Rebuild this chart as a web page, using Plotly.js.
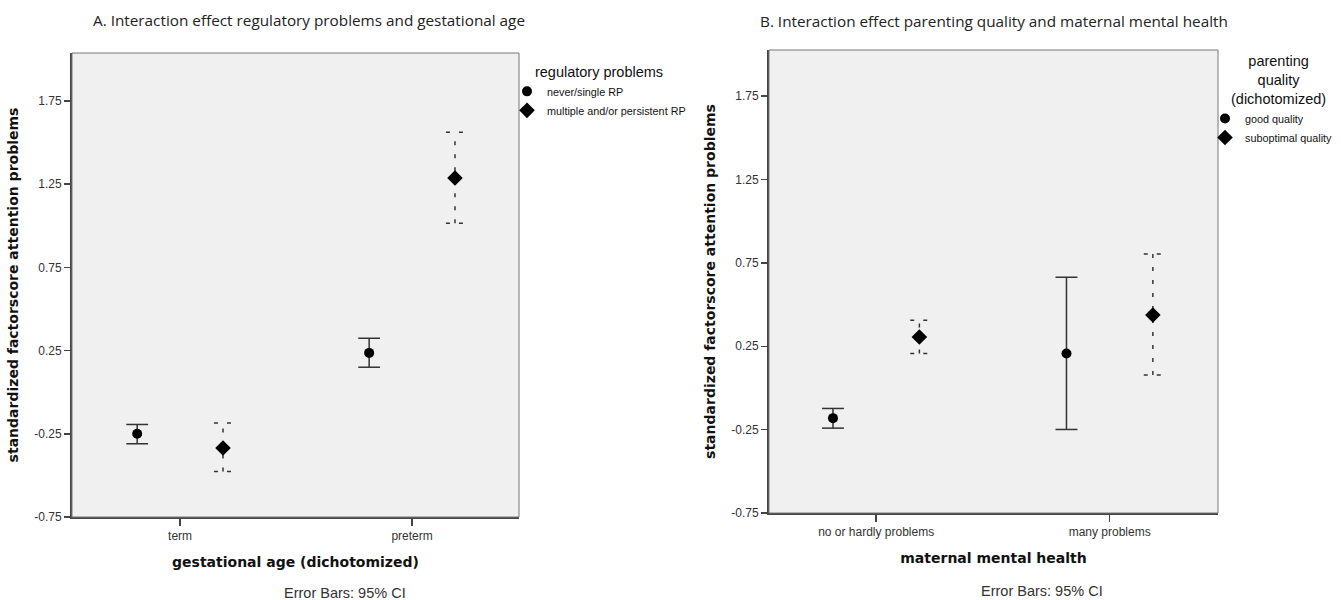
<!DOCTYPE html>
<html>
<head>
<meta charset="utf-8">
<script src="https://cdn.plot.ly/plotly-3.0.1.min.js"></script>
<style>html,body{margin:0;padding:0;background:#fff;}#chart{width:1341px;height:600px;}</style>
</head>
<body>
<div id="chart"></div>
<script>
// ---- data ----
const catsA = ['term', 'preterm'];
const rpNeverMean = [-0.25, 0.236];
const rpNeverLo   = [-0.31, 0.150];
const rpNeverHi   = [-0.194, 0.324];
const rpMultMean  = [-0.335, 1.287];
const rpMultLo    = [-0.477, 1.015];
const rpMultHi    = [-0.185, 1.562];

const catsB = ['no or hardly problems', 'many problems'];
const goodMean = [-0.181, 0.207];
const goodLo   = [-0.241, -0.249];
const goodHi   = [-0.123, 0.664];
const subMean  = [0.306, 0.438];
const subLo    = [0.207, 0.077];
const subHi    = [0.406, 0.803];

const yTickVals = [-0.75, -0.25, 0.25, 0.75, 1.25, 1.75];
const yTickText = ['-0.75', '-0.25', '0.25', '0.75', '1.25', '1.75'];

// ---- helpers ----
const OFFSET = 0.185;   // cluster offset in category units
function positions(n, off) { return Array.from({length: n}, (_, i) => i + off); }

function errorTrace(xs, lo, hi, capHalf, dash, xa, ya) {
  const x = [], y = [];
  xs.forEach((xi, i) => {
    x.push(xi, xi, null, xi - capHalf, xi + capHalf, null, xi - capHalf, xi + capHalf, null);
    y.push(lo[i], hi[i], null, hi[i], hi[i], null, lo[i], lo[i], null);
  });
  return {
    type: 'scatter', mode: 'lines', x, y, xaxis: xa, yaxis: ya,
    line: {color: '#333', width: 1.5, dash: dash},
    showlegend: false, hoverinfo: 'skip'
  };
}

function markerTrace(xs, ys, name, symbol, size, xa, ya, legend) {
  return {
    type: 'scatter', mode: 'markers', x: xs, y: ys, name: name,
    xaxis: xa, yaxis: ya, legend: legend,
    marker: {symbol: symbol, size: size, color: '#000'}
  };
}

const xA0 = positions(2, -OFFSET), xA1 = positions(2, OFFSET);
const xB0 = positions(2, -OFFSET), xB1 = positions(2, OFFSET);

const traces = [
  errorTrace(xA0, rpNeverLo, rpNeverHi, 0.047, 'solid', 'x', 'y'),
  errorTrace(xA1, rpMultLo, rpMultHi, 0.039, '4px,9px', 'x', 'y'),
  markerTrace(xA0, rpNeverMean, 'never/single RP', 'circle', 10, 'x', 'y', 'legend'),
  markerTrace(xA1, rpMultMean, 'multiple and/or persistent RP', 'diamond', 12, 'x', 'y', 'legend'),
  errorTrace(xB0, goodLo, goodHi, 0.047, 'solid', 'x2', 'y2'),
  errorTrace(xB1, subLo, subHi, 0.039, '4px,9px', 'x2', 'y2'),
  markerTrace(xB0, goodMean, 'good quality', 'circle', 10, 'x2', 'y2', 'legend2'),
  markerTrace(xB1, subMean, 'suboptimal quality', 'diamond', 12, 'x2', 'y2', 'legend2')
];

const W = 1341, H = 600;
const arial = 'Liberation Sans, Arial, sans-serif';
const tickFont = {family: arial, size: 12, color: '#333'};
const axTitleFont = {family: 'DejaVu Sans, Verdana, sans-serif', size: 14, color: '#111'};

function xAxis(domain, range, cats, title) {
  return {
    domain: domain, range: range, tickvals: [0, 1], ticktext: cats,
    showgrid: false, zeroline: false, showline: true, linecolor: '#444', linewidth: 2,
    ticks: 'outside', ticklen: 7, tickwidth: 1.5, tickcolor: '#444',
    tickfont: tickFont, fixedrange: true,
    title: {text: '<b>' + title + '</b>', font: axTitleFont, standoff: 15}
  };
}
function yAxis(domain, range, anchor) {
  return {
    domain: domain, range: range, anchor: anchor,
    tickvals: yTickVals, ticktext: yTickText,
    showgrid: false, zeroline: false, showline: true, linecolor: '#444', linewidth: 2,
    ticks: 'outside', ticklen: 6, tickwidth: 1.5, tickcolor: '#444',
    tickfont: tickFont, fixedrange: true,
    title: {text: '<b>standardized factorscore attention problems</b>', font: axTitleFont, standoff: 12}
  };
}

const layout = {
  width: W, height: H,
  margin: {l: 0, r: 0, t: 0, b: 0},
  paper_bgcolor: '#fff', plot_bgcolor: '#f0f0f0',
  showlegend: true,
  xaxis: Object.assign(xAxis([72 / W, 519 / W], [-0.466, 1.461], catsA, 'gestational age (dichotomized)'), {anchor: 'y'}),
  yaxis: yAxis([1 - 517 / H, 1 - 53 / H], [-0.75, 2.038], 'x'),
  xaxis2: Object.assign(xAxis([769 / W, 1218 / W], [-0.459, 1.464], catsB, 'maternal mental health'), {anchor: 'y2'}),
  yaxis2: yAxis([1 - 513 / H, 1 - 50 / H], [-0.75, 2.027], 'x2'),
  legend: {
    x: 507 / W, xanchor: 'left', y: 1 - 58 / H, yanchor: 'top',
    bgcolor: 'rgba(0,0,0,0)', borderwidth: 0,
    font: {family: arial, size: 10.8, color: '#111'},
    title: {text: 'regulatory problems', side: 'top center',
            font: {family: arial, size: 14.5, color: '#111'}},
    itemwidth: 30, tracegroupgap: 0
  },
  legend2: {
    x: 1205 / W, xanchor: 'left', y: 1 - 104 / H, yanchor: 'top',
    bgcolor: 'rgba(0,0,0,0)', borderwidth: 0,
    font: {family: arial, size: 10.8, color: '#111'},
    itemwidth: 30, tracegroupgap: 0
  },
  shapes: [
    {type: 'rect', xref: 'x domain', yref: 'y domain', x0: 0, x1: 1, y0: 0, y1: 1,
     line: {color: '#777', width: 1}, fillcolor: 'rgba(0,0,0,0)'},
    {type: 'rect', xref: 'x2 domain', yref: 'y2 domain', x0: 0, x1: 1, y0: 0, y1: 1,
     line: {color: '#777', width: 1}, fillcolor: 'rgba(0,0,0,0)'}
  ],
  annotations: [
    {text: 'A. Interaction effect regulatory problems and gestational age', xref: 'paper', yref: 'paper',
     x: 91 / W, y: 1 - 20 / H, xanchor: 'left', yanchor: 'middle', showarrow: false,
     font: {family: 'Open Sans, sans-serif', size: 15.3, color: '#222'}},
    {text: 'B. Interaction effect parenting quality and maternal mental health', xref: 'paper', yref: 'paper',
     x: 758 / W, y: 1 - 21 / H, xanchor: 'left', yanchor: 'middle', showarrow: false,
     font: {family: 'Open Sans, sans-serif', size: 15.3, color: '#222'}},
    {text: 'parenting<br>quality<br>(dichotomized)', xref: 'paper', yref: 'paper',
     x: 1278 / W, y: 1 - 80 / H, xanchor: 'center', yanchor: 'middle', align: 'center', showarrow: false,
     font: {family: arial, size: 14.5, color: '#111'}},
    {text: 'Error Bars: 95% CI', xref: 'paper', yref: 'paper',
     x: 345 / W, y: 1 - 593 / H, xanchor: 'center', yanchor: 'middle', showarrow: false,
     font: {family: arial, size: 14.5, color: '#333'}},
    {text: 'Error Bars: 95% CI', xref: 'paper', yref: 'paper',
     x: 1042 / W, y: 1 - 591 / H, xanchor: 'center', yanchor: 'middle', showarrow: false,
     font: {family: arial, size: 14.5, color: '#333'}}
  ]
};

Plotly.newPlot('chart', traces, layout, {displayModeBar: false, staticPlot: true});
</script>
</body>
</html>
